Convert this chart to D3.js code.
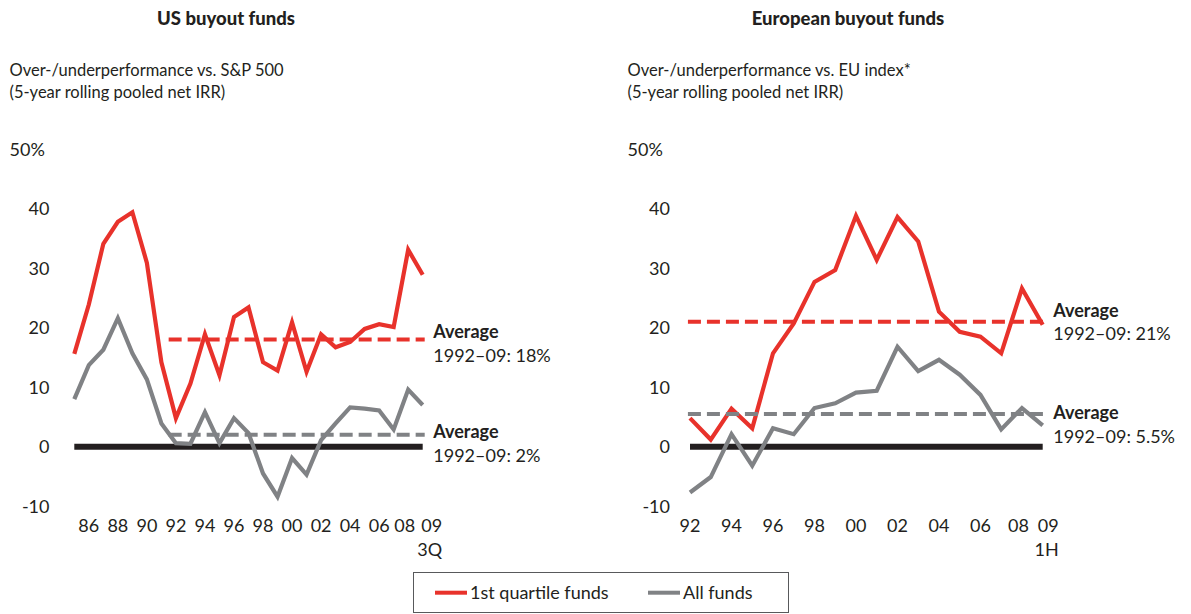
<!DOCTYPE html>
<html>
<head>
<meta charset="utf-8">
<script src="https://cdn.jsdelivr.net/npm/d3@7"></script>
<style>
  html, body { margin: 0; padding: 0; background: #fff; }
  svg { display: block; font-family: Lato, "Noto Sans", sans-serif; }
</style>
</head>
<body>
<svg id="chart" width="1191" height="614"></svg>
<script>
// ---- Data ----
const usYears = [1985, 1986, 1987, 1988, 1989, 1990, 1991, 1992, 1993, 1994, 1995, 1996, 1997,
                 1998, 1999, 2000, 2001, 2002, 2003, 2004, 2005, 2006, 2007, 2008, 2009];
const usFirstQuartile = [15.6, 23.9, 34.1, 37.8, 39.4, 30.9, 14.2, 4.8, 10.6, 18.9, 12.0, 21.8, 23.4,
                         14.2, 12.8, 20.9, 12.6, 18.9, 16.7, 17.6, 19.8, 20.6, 20.1, 33.1, 28.9];
const usAllFunds = [8.0, 13.7, 16.3, 21.6, 15.7, 11.3, 3.9, 0.6, 0.5, 5.8, 0.6, 4.8, 2.3,
                    -4.5, -8.4, -1.9, -4.7, 1.1, 3.9, 6.6, 6.4, 6.1, 2.9, 9.6, 7.0];
const usTickYears = [1986, 1988, 1990, 1992, 1994, 1996, 1998, 2000, 2002, 2004, 2006, 2008, 2009];
const usTickLabels = ["86", "88", "90", "92", "94", "96", "98", "00", "02", "04", "06", "08", "09"];
const usLastSubLabel = "3Q";
const usAvgFirstQuartile = 18;
const usAvgAll = 2;

const euYears = [1992, 1993, 1994, 1995, 1996, 1997, 1998, 1999, 2000,
                 2001, 2002, 2003, 2004, 2005, 2006, 2007, 2008, 2009];
const euFirstQuartile = [4.8, 1.2, 6.4, 3.1, 15.7, 20.7, 27.7, 29.7, 38.8,
                         31.4, 38.6, 34.5, 22.7, 19.3, 18.5, 15.7, 26.6, 20.5];
const euAllFunds = [-7.7, -5.1, 2.1, -3.2, 3.1, 2.1, 6.5, 7.3, 9.1,
                    9.4, 16.8, 12.7, 14.6, 12.1, 8.7, 2.9, 6.5, 3.6];
const euTickYears = [1992, 1994, 1996, 1998, 2000, 2002, 2004, 2006, 2008, 2009];
const euTickLabels = ["92", "94", "96", "98", "00", "02", "04", "06", "08", "09"];
const euLastSubLabel = "1H";
const euAvgFirstQuartile = 21;
const euAvgAll = 5.5;

const yTicks = [-10, 0, 10, 20, 30, 40, 50];
const avgPeriod = "1992–09";

// ---- Styles ----
const RED = "#e8322b";
const GRAY = "#808285";
const INK = "#231f20";

const svg = d3.select("#chart");

const y = d3.scaleLinear().domain([0, 40]).range([446.7, 208.7]);

function drawPanel(opts) {
  const g = svg.append("g");
  const x = d3.scalePoint().domain(opts.years).range(opts.xRange);
  const step = x.step();

  // Titles
  g.append("text")
    .attr("x", opts.titleX).attr("y", 25)
    .attr("text-anchor", "middle")
    .attr("font-size", 18.5).attr("font-weight", 900).attr("fill", INK)
    .text(opts.title);
  g.append("text")
    .attr("x", opts.subX).attr("y", 75.5)
    .attr("font-size", 16.5).attr("fill", INK)
    .text(opts.subtitle);
  g.append("text")
    .attr("x", opts.subX).attr("y", 97.5)
    .attr("font-size", 16.5).attr("fill", INK)
    .text("(5-year rolling pooled net IRR)");

  // Y tick labels
  g.selectAll("text.ytick").data(yTicks).join("text")
    .attr("class", "ytick")
    .attr("x", d => d === 50 ? opts.subX : opts.yLabelX)
    .attr("y", d => y(d))
    .attr("dy", "0.35em")
    .attr("text-anchor", d => d === 50 ? "start" : "end")
    .attr("font-size", 18).attr("fill", INK)
    .text(d => d === 50 ? "50%" : String(d));

  // X tick labels
  const n = opts.tickYears.length;
  g.selectAll("text.xtick").data(opts.tickYears).join("text")
    .attr("class", "xtick")
    .attr("x", d => x(d))
    .attr("dx", (d, i) => i === n - 1 ? opts.lastDx : (i === n - 2 ? -3.5 : 0))
    .attr("y", 531.5)
    .attr("text-anchor", "middle")
    .attr("font-size", 18).attr("fill", INK)
    .text((d, i) => opts.tickLabels[i]);
  const lastYear = opts.tickYears[n - 1];
  g.append("text")
    .attr("x", x(lastYear) + opts.lastDx + 10.5)
    .attr("y", 555.5)
    .attr("text-anchor", "end")
    .attr("font-size", 18).attr("fill", INK)
    .text(opts.subLabel);

  // Zero line
  g.append("line")
    .attr("x1", x.range()[0]).attr("x2", x.range()[1])
    .attr("y1", y(0)).attr("y2", y(0))
    .attr("stroke", INK).attr("stroke-width", 6);

  const line = d3.line()
    .x((d, i) => x(opts.years[i]))
    .y(d => y(d));

  // Series
  g.append("path").datum(opts.all)
    .attr("d", line).attr("fill", "none")
    .attr("stroke", GRAY).attr("stroke-width", 4.2).attr("stroke-linejoin", "miter");
  g.append("path").datum(opts.first)
    .attr("d", line).attr("fill", "none")
    .attr("stroke", RED).attr("stroke-width", 4.2).attr("stroke-linejoin", "miter");

  // Average lines
  const ax1 = x(1992) - opts.avgLead * step;
  const ax2 = x(2009) + 2;
  [[opts.avgFirst, RED], [opts.avgAll, GRAY]].forEach(([v, c]) => {
    g.append("line")
      .attr("x1", ax1).attr("x2", ax2)
      .attr("y1", y(v)).attr("y2", y(v))
      .attr("stroke", c).attr("stroke-width", 4)
      .attr("stroke-dasharray", "13,6");
  });

  // Average annotations
  [[opts.avgFirst, opts.noteYFirst], [opts.avgAll, opts.noteYAll]].forEach(([v, ty]) => {
    g.append("text")
      .attr("x", opts.noteX).attr("y", ty)
      .attr("font-size", 18).attr("font-weight", 700).attr("fill", INK)
      .text("Average");
    g.append("text")
      .attr("x", opts.noteX).attr("y", ty + 23.5)
      .attr("font-size", 18).attr("fill", INK)
      .text(`${avgPeriod}: ${v}%`);
  });
}

drawPanel({
  title: "US buyout funds", titleX: 226,
  subtitle: "Over-/underperformance vs. S&P 500", subX: 9.5,
  yLabelX: 49.5,
  years: usYears, xRange: [74.3, 422.7],
  first: usFirstQuartile, all: usAllFunds,
  tickYears: usTickYears, tickLabels: usTickLabels, lastDx: 9, subLabel: usLastSubLabel,
  avgFirst: usAvgFirstQuartile, avgAll: usAvgAll, avgLead: 0.5,
  noteX: 433.3, noteYFirst: 338.3, noteYAll: 438.3
});

drawPanel({
  title: "European buyout funds", titleX: 848,
  subtitle: "Over-/underperformance vs. EU index*", subX: 627.5,
  yLabelX: 670,
  years: euYears, xRange: [690, 1042.7],
  first: euFirstQuartile, all: euAllFunds,
  tickYears: euTickYears, tickLabels: euTickLabels, lastDx: 5.5, subLabel: euLastSubLabel,
  avgFirst: euAvgFirstQuartile, avgAll: euAvgAll, avgLead: 0.1,
  noteX: 1053.3, noteYFirst: 316.7, noteYAll: 419.3
});

// ---- Legend ----
const legend = svg.append("g");
legend.append("rect")
  .attr("x", 413.5).attr("y", 572.5).attr("width", 375).attr("height", 40)
  .attr("fill", "#fff").attr("stroke", "#58595b").attr("stroke-width", 1);
const legendItems = [
  { label: "1st quartile funds", color: RED, x: 435 },
  { label: "All funds", color: GRAY, x: 648 }
];
legendItems.forEach(it => {
  legend.append("line")
    .attr("x1", it.x).attr("x2", it.x + 32)
    .attr("y1", 592.7).attr("y2", 592.7)
    .attr("stroke", it.color).attr("stroke-width", 4);
  legend.append("text")
    .attr("x", it.x + 35).attr("y", 599)
    .attr("font-size", 18).attr("fill", INK)
    .text(it.label);
});
</script>
</body>
</html>
